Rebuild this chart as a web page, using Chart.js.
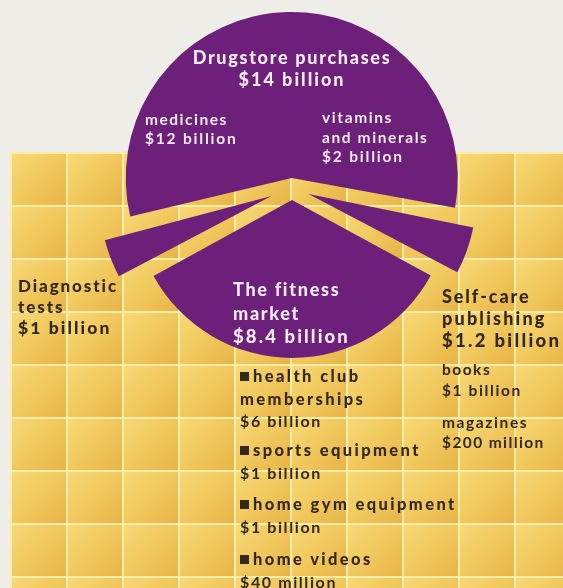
<!DOCTYPE html>
<html>
<head>
<meta charset="utf-8">
<script src="https://cdn.jsdelivr.net/npm/chart.js@4.4.0/dist/chart.umd.min.js"></script>
<style>
html, body { margin: 0; padding: 0; width: 563px; height: 588px; overflow: hidden; background: #eeede7; font-family: Lato, "Open Sans", sans-serif; }
#tiles {
    position: absolute; left: 10px; top: 152px; right: 0; bottom: 0;
    background-color: #eec459;
    background-image:
        linear-gradient(to right, rgba(255,240,175,.9) 0, rgba(255,240,175,.9) 2px, transparent 2px),
        linear-gradient(to bottom, rgba(255,240,175,.9) 0, rgba(255,240,175,.9) 2px, transparent 2px),
        linear-gradient(135deg, #f7da78 0%, #f1c95e 50%, #e8b447 100%);
    background-size: 56px 53px;
}
#pie { position: absolute; left: 62px; top: 0; }
.lbl { position: absolute; white-space: nowrap; }
.lbl div { white-space: nowrap; }
.bullet { display: inline-block; width: 9px; height: 9px; background: #35281e; margin-right: 4px; vertical-align: 1px; }
</style>
</head>
<body>
<div id="tiles"></div>
<canvas id="pie" width="460" height="376"></canvas>
<div id="labels"></div>
<script>
// segmentos del mercado (en sentido horario desde arriba)
const categories = [['Drugstore purchases'], ['Self-care', 'publishing'], ['The fitness', 'market'], ['Diagnostic', 'tests']];
const values = [14, 1.2, 8.4, 1];
const valueLabels = ['$14 billion', '$1.2 billion', '$8.4 billion', '$1 billion'];

// desgloses
const drugstoreItems = [['medicines'], ['vitamins', 'and minerals']];
const drugstoreValues = ['$12 billion', '$2 billion'];
const publishingItems = [['books'], ['magazines']];
const publishingValues = ['$1 billion', '$200 million'];
const fitnessItems = [['health club', 'memberships'], ['sports equipment'], ['home gym equipment'], ['home videos']];
const fitnessValues = ['$6 billion', '$1 billion', '$1 billion', '$40 million'];

const purple = '#6d2079';
const dark = '#35281e';
const light = '#f4eaf1';

new Chart(document.getElementById('pie'), {
    type: 'pie',
    data: {
        labels: categories,
        datasets: [{
            data: values,
            backgroundColor: purple,
            borderWidth: 0,
            offset: [40, 70, 48, 88],
            hoverOffset: 0
        }]
    },
    options: {
        responsive: false,
        animation: false,
        rotation: -104,
        radius: 156,
        events: [],
        layout: { padding: 0 },
        plugins: { legend: { display: false }, tooltip: { enabled: false } }
    }
});

// etiquetas como texto HTML
const holder = document.getElementById('labels');
function block(lines, x, y, lh, color, center) {
    const el = document.createElement('div');
    el.className = 'lbl';
    el.style.left = x + 'px';
    el.style.top = y + 'px';
    el.style.lineHeight = lh + 'px';
    el.style.color = color;
    if (center) { el.style.transform = 'translateX(-50%)'; el.style.textAlign = 'center'; }
    lines.forEach(l => {
        const d = document.createElement('div');
        if (l.bullet) {
            const b = document.createElement('span');
            b.className = 'bullet';
            d.appendChild(b);
        }
        d.appendChild(document.createTextNode(l.text));
        d.style.fontSize = l.size + 'px';
        d.style.fontWeight = l.weight;
        d.style.letterSpacing = l.ls + 'px';
        el.appendChild(d);
    });
    holder.appendChild(el);
}
const heavy = (s, size, ls) => ({ text: s, size: size, weight: 900, ls: ls });
const medium = (s, size, ls) => ({ text: s, size: size, weight: 700, ls: ls });

block([heavy(categories[0][0], 18, 1.7), heavy(valueLabels[0], 18, 2.0)], 292, 46, 22, light, true);
block([medium(drugstoreItems[0][0], 15.5, 1.5), medium(drugstoreValues[0], 15.5, 1.8)], 145, 110, 19, light);
block([medium(drugstoreItems[1][0], 15.5, 1.6), medium(drugstoreItems[1][1], 15.5, 1.6), medium(drugstoreValues[1], 15.5, 1.8)], 322, 108, 19.5, light);
block([heavy(categories[3][0], 17, 1.9), heavy(categories[3][1], 17, 1.9), heavy(valueLabels[3], 17.5, 2.1)], 18, 275, 21, dark);
block([heavy(categories[2][0], 18, 1.7), heavy(categories[2][1], 18, 1.7), heavy(valueLabels[2], 18.5, 2.1)], 233, 278, 23.5, light);
block([heavy(categories[1][0], 18, 1.9), heavy(categories[1][1], 18, 2.2), heavy(valueLabels[1], 18.5, 2.3)], 442, 285, 22, dark);
block([medium(publishingItems[0][0], 15.5, 1.5), medium(publishingValues[0], 15.5, 1.6)], 442, 359, 21, dark);
block([medium(publishingItems[1][0], 15.5, 1.6), medium(publishingValues[1], 15.5, 1.4)], 442, 413, 19.5, dark);

const fitTops = [365, 439, 493, 548];
fitnessItems.forEach((item, i) => {
    const lines = item.map((s, j) => Object.assign(heavy(s, 16.5, 2.4), { bullet: j === 0 }));
    lines.push(medium(fitnessValues[i], 16, 1.6));
    block(lines, 240, fitTops[i], 22.5, dark);
});
</script>
</body>
</html>
